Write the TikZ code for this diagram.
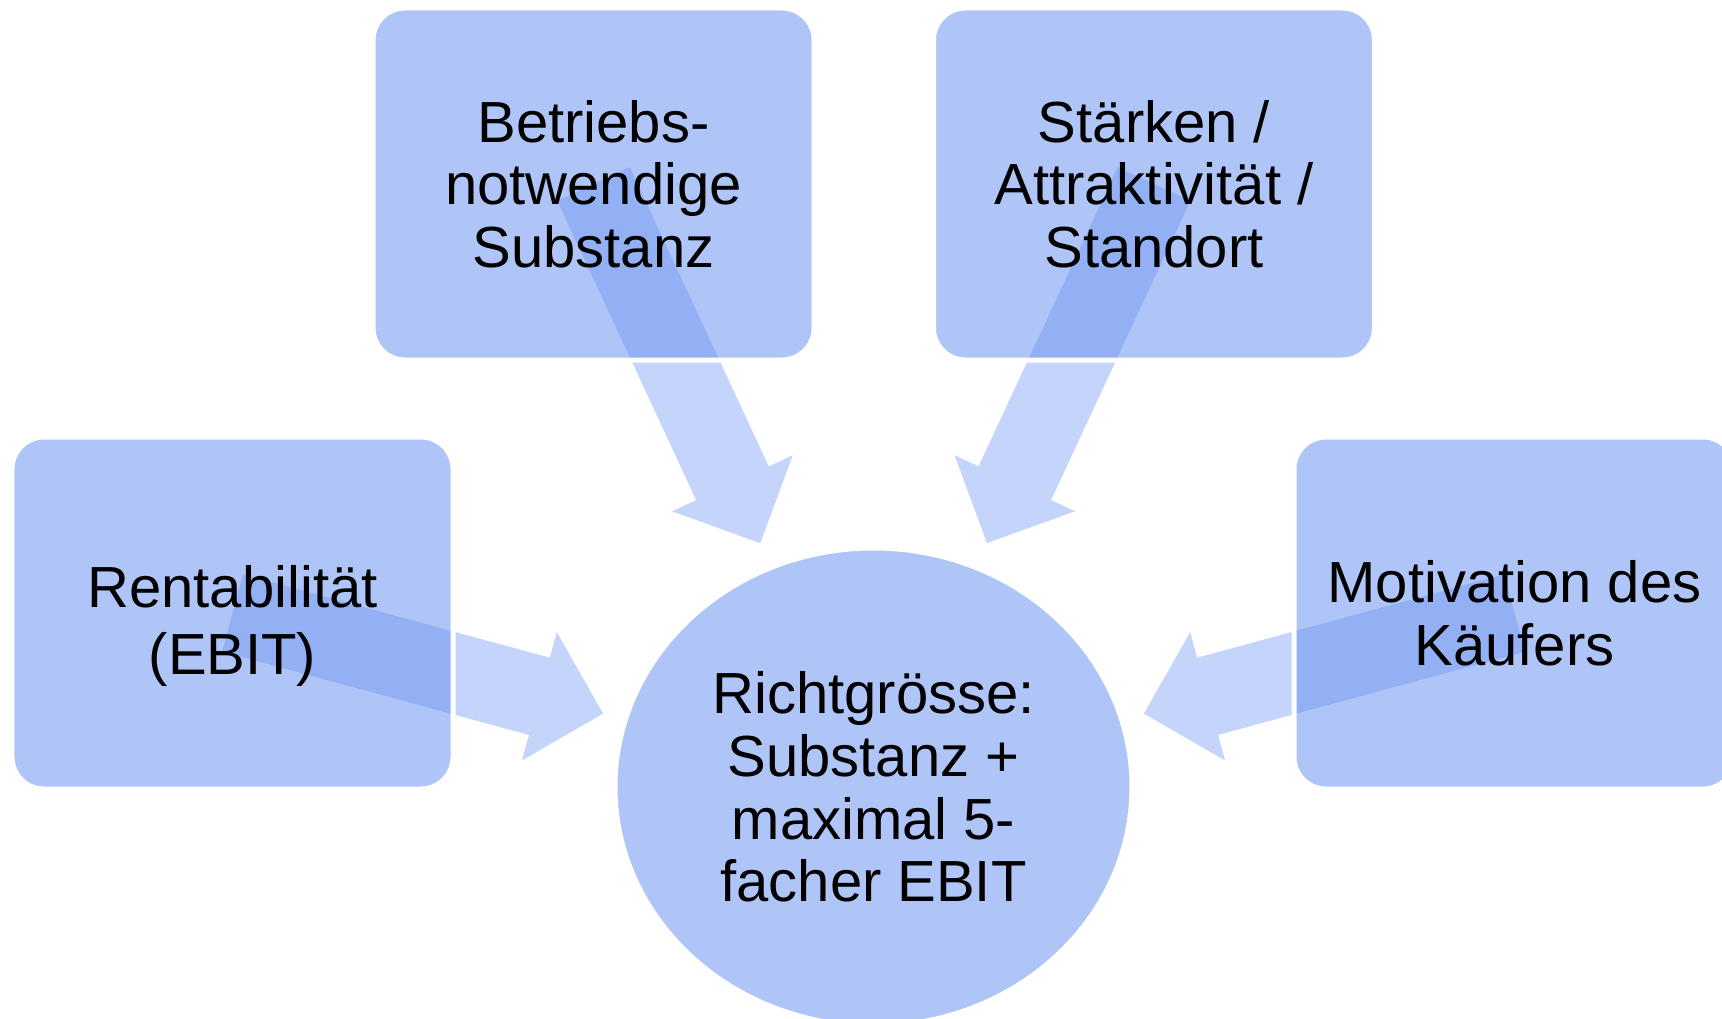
\documentclass[tikz,border=0pt]{standalone}
\usepackage{fontspec}
\setmainfont{Liberation Sans}
\usepackage{tikz}
\usepackage{xcolor}
\usetikzlibrary{shapes.geometric, positioning, calc, backgrounds}
\definecolor{SA_Blue}{RGB}{104,145,241}

% block arrow from the centre of #1 towards #2: tip at #3, head base at #4
\newcommand{\convarrow}[4]{%
    \coordinate (#1-hb) at ($(#1.center)!#4!(#2.center)$);
    \fill[flow] ($(#1.center)!0.4cm!90:(#2.center)$)
        -- ($(#1-hb)!0.4cm!90:(#2.center)$)
        -- ($(#1-hb)!0.665cm!90:(#2.center)$)
        -- ($(#1.center)!#3!(#2.center)$)
        -- ($(#1-hb)!0.665cm!-90:(#2.center)$)
        -- ($(#1-hb)!0.4cm!-90:(#2.center)$)
        -- ($(#1.center)!0.4cm!-90:(#2.center)$) -- cycle;
}

\begin{document}
\begin{tikzpicture}[
    every node/.style={
        font=\fontsize{16.5pt}{17.8pt}\selectfont,
        align=center,
        text=black
    },
    factor/.style={
        rectangle,
        rounded corners=0.32cm,
        minimum width=4.41cm,
        minimum height=3.52cm,
        fill=SA_Blue,
        fill opacity=0.53,
        text opacity=1,
        draw=white,
        line width=0.05cm
    },
    goal/.style={
        ellipse,
        minimum width=5.17cm,
        minimum height=4.78cm,
        fill=SA_Blue,
        fill opacity=0.53,
        text opacity=1,
        draw=white,
        line width=0.05cm
    },
    flow/.style={
        fill=SA_Blue,
        fill opacity=0.39
    }
]
\useasboundingbox (0,0) rectangle (17.22,-10.19);

% Factors
\node[factor] (Sub) at (5.935, -1.84) {Betriebs-\\notwendige\\Substanz};
\node[factor] (Std) at (11.54, -1.84) {Stärken /\\Attraktivität /\\Standort};
\node[factor] (Ren) at (2.325, -6.13) {\rule{0pt}{0.68cm}Rentabilität\\[0.04cm](EBIT)};
\node[factor] (Mot) at (15.145, -6.13) {Motivation des\\Käufers};

% Centre
\node[goal] (Richt) at (8.735, -7.87) {Richtgrösse:\\Substanz +\\maximal 5-\\facher EBIT};

% Converging arrows
\begin{scope}[on background layer]
\convarrow{Sub}{Richt}{3.96cm}{3.30cm}
\convarrow{Std}{Richt}{3.96cm}{3.30cm}
\convarrow{Ren}{Richt}{3.84cm}{3.18cm}
\convarrow{Mot}{Richt}{3.84cm}{3.18cm}
\end{scope}

\end{tikzpicture}
\end{document}
